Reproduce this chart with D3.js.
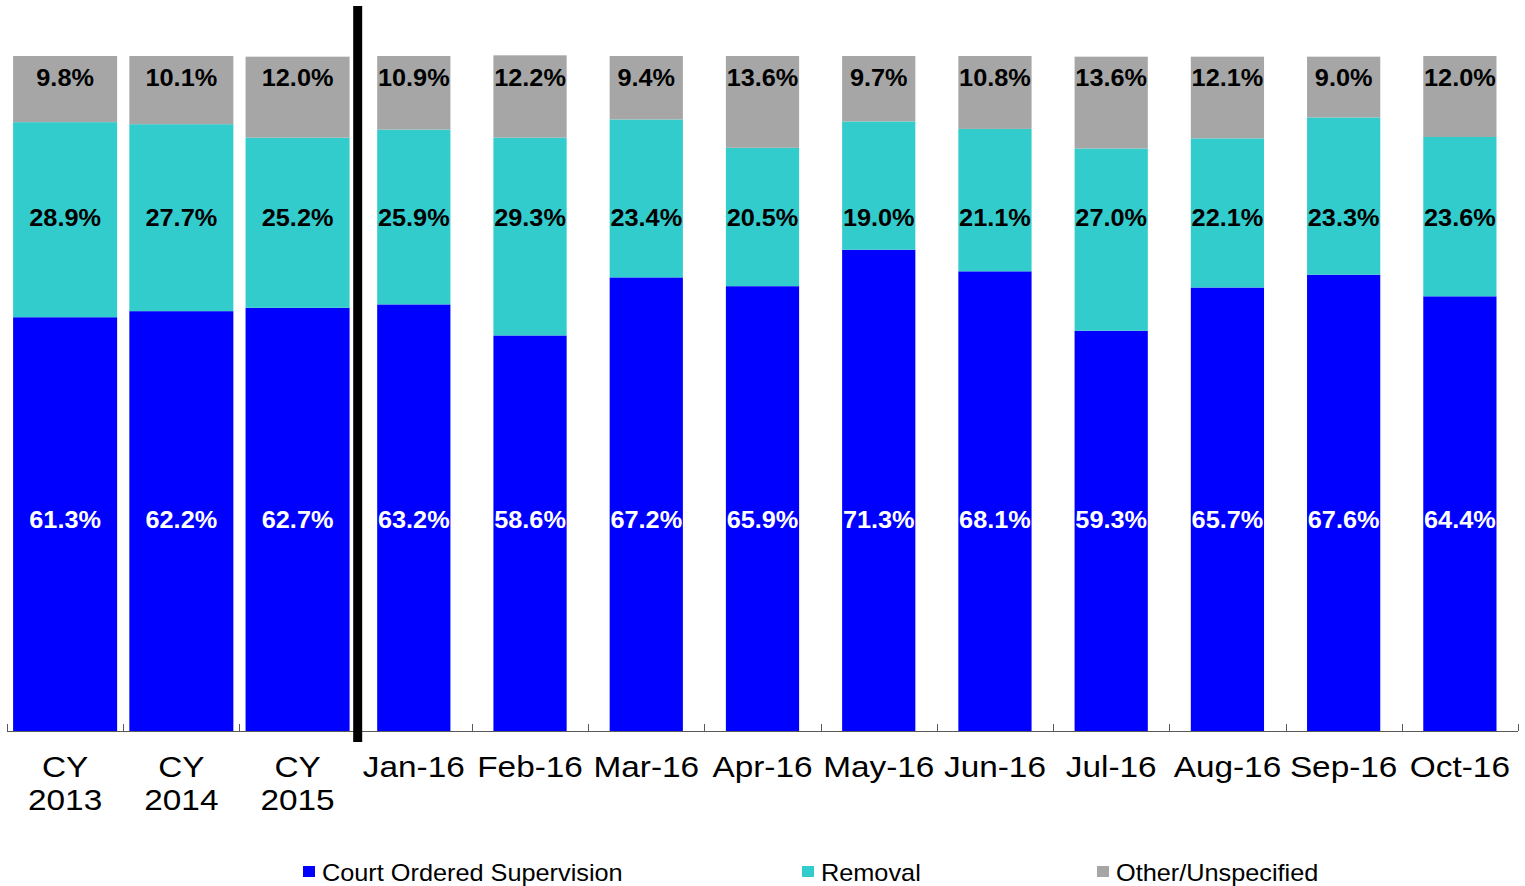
<!DOCTYPE html>
<html>
<head>
<meta charset="utf-8">
<script src="https://cdn.jsdelivr.net/npm/d3@7"></script>
<style>
  body { margin: 0; background: #fff; }
  svg { display: block; font-family: "Liberation Sans", Arial, sans-serif; }
</style>
</head>
<body>
<div id="chart"></div>
<script>
// categories (CY rows are shown on two lines)
var categories = ["CY 2013", "CY 2014", "CY 2015", "Jan-16", "Feb-16", "Mar-16", "Apr-16",
                  "May-16", "Jun-16", "Jul-16", "Aug-16", "Sep-16", "Oct-16"];
var seriesNames = ["Court Ordered Supervision", "Removal", "Other/Unspecified"];
var court   = [61.3, 62.2, 62.7, 63.2, 58.6, 67.2, 65.9, 71.3, 68.1, 59.3, 65.7, 67.6, 64.4];
var removal = [28.9, 27.7, 25.2, 25.9, 29.3, 23.4, 20.5, 19.0, 21.1, 27.0, 22.1, 23.3, 23.6];
var other   = [ 9.8, 10.1, 12.0, 10.9, 12.2,  9.4, 13.6,  9.7, 10.8, 13.6, 12.1,  9.0, 12.0];

var colors = ["#0000ff", "#33cccc", "#a6a6a6"];
var labelColors = ["#ffffff", "#000000", "#000000"];
// labels sit at roughly fixed heights in the original, not centred
var labelLevel = [31.2, 76, 96.7];

var width = 1525, height = 886;
var plotLeft = 7, plotRight = 1518, plotBase = 731, plotTop = 56;

var svg = d3.select("#chart").append("svg")
    .attr("width", width)
    .attr("height", height);

var x = d3.scaleBand()
    .domain(categories)
    .range([plotLeft, plotRight])
    .padding(0);

var y = d3.scaleLinear()
    .domain([0, 100])
    .range([plotBase, plotTop]);

var rows = categories.map(function(c, i) {
    return { cat: c, v: [court[i], removal[i], other[i]] };
});

function barWidth(d) {
    return d.cat.indexOf("CY") === 0 ? x.step() * 0.895 : x.step() * 0.63;
}

// text in the picture is drawn a bit wide
function wideText(sel, tx, ty, sx) {
    return sel.attr("transform", "translate(" + tx + "," + ty + ") scale(" + (sx || 1.14) + ",1)");
}

// stacked bars
rows.forEach(function(d) {
    var cx = x(d.cat) + x.bandwidth() / 2;
    var w = barWidth(d);
    var acc = 0;
    d.v.forEach(function(v, s) {
        svg.append("rect")
            .attr("x", cx - w / 2)
            .attr("y", y(acc + v))
            .attr("width", w)
            .attr("height", y(acc) - y(acc + v))
            .attr("fill", colors[s]);
        acc += v;
    });
});

// data labels
rows.forEach(function(d) {
    var cx = x(d.cat) + x.bandwidth() / 2;
    d.v.forEach(function(v, s) {
        svg.append("text")
            .call(wideText, cx, y(labelLevel[s]) + 8, 1.1)
            .attr("text-anchor", "middle")
            .attr("font-size", 23)
            .attr("font-weight", "bold")
            .attr("fill", labelColors[s])
            .text(v.toFixed(1) + "%");
    });
});

// x axis line and ticks at category boundaries
svg.append("line")
    .attr("x1", plotLeft).attr("x2", plotRight)
    .attr("y1", plotBase + 0.5).attr("y2", plotBase + 0.5)
    .attr("stroke", "#595959")
    .attr("stroke-width", 1.2);

d3.range(categories.length + 1).forEach(function(i) {
    var tx = Math.round(plotLeft + i * x.step()) + 0.5;
    svg.append("line")
        .attr("x1", tx).attr("x2", tx)
        .attr("y1", plotBase - 7).attr("y2", plotBase)
        .attr("stroke", "#595959")
        .attr("stroke-width", 1);
});

// category labels
categories.forEach(function(c) {
    var cx = x(c) + x.bandwidth() / 2;
    var lines = c.indexOf("CY") === 0 ? c.split(" ") : [c];
    lines.forEach(function(t, k) {
        svg.append("text")
            .call(wideText, cx, 777 + k * 33, 1.15)
            .attr("text-anchor", "middle")
            .attr("font-size", 29)
            .attr("fill", "#000")
            .text(t);
    });
});

// divider between calendar years and months
var divX = x("Jan-16") + 2;
svg.append("rect")
    .attr("x", divX - 4.5)
    .attr("y", 6)
    .attr("width", 9)
    .attr("height", 736)
    .attr("fill", "#000");

// legend
var legendX = [303, 802, 1097];
seriesNames.forEach(function(n, i) {
    svg.append("rect")
        .attr("x", legendX[i])
        .attr("y", 866)
        .attr("width", 12)
        .attr("height", 11)
        .attr("fill", colors[i]);
    svg.append("text")
        .call(wideText, legendX[i] + 19, 881, 1.1)
        .attr("font-size", 23)
        .attr("fill", "#000")
        .text(n);
});
</script>
</body>
</html>
